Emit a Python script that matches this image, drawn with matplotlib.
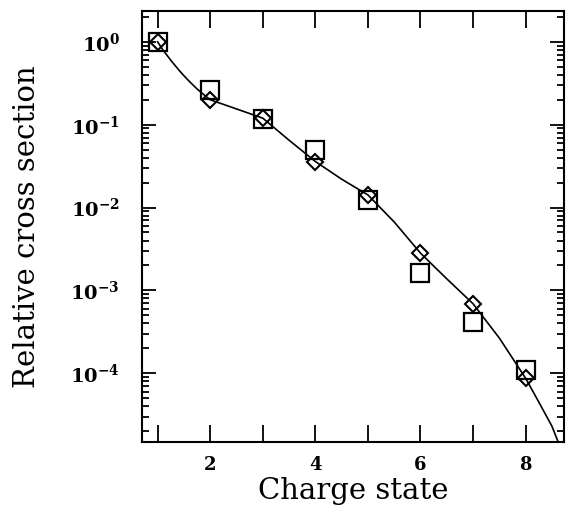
import matplotlib
matplotlib.use("Agg")
import matplotlib.pyplot as plt
from matplotlib.ticker import FixedLocator, LogLocator, NullFormatter

plt.rcParams['font.family'] = 'DejaVu Serif'
plt.rcParams['mathtext.fontset'] = 'dejavuserif'

charge = [1, 2, 3, 4, 5, 6, 7, 8]
squares = [1.0, 0.26, 0.116, 0.050, 0.0124, 0.00162, 0.00041, 0.000110]
diamonds = [1.0, 0.20, 0.119, 0.035, 0.0142, 0.00282, 0.00069, 0.000087]

# smooth calculated curve
curve_x = [1.0, 1.1, 1.25, 1.4, 1.5, 1.6, 1.75, 1.9, 2.0, 2.5, 3.0, 3.5, 4.0,
           4.5, 5.0, 5.5, 6.0, 6.5, 7.0, 7.5, 8.0, 8.25, 8.5, 8.62]
curve_y = [1.0, 0.80, 0.60, 0.46, 0.39, 0.335, 0.27, 0.225, 0.20, 0.155,
           0.12, 0.065, 0.036, 0.022, 0.0142, 0.0067, 0.00282, 0.00138,
           0.00069, 0.000266, 0.000087, 4.5e-5, 2.3e-5, 1.48e-5]

xticks = [1, 2, 3, 4, 5, 6, 7, 8]
xticklabels = ['', '2', '', '4', '', '6', '', '8']
yticks = [1e0, 1e-1, 1e-2, 1e-3, 1e-4]
yticklabels = [r'$\mathbf{10^{0}}$', r'$\mathbf{10^{-1}}$', r'$\mathbf{10^{-2}}$',
               r'$\mathbf{10^{-3}}$', r'$\mathbf{10^{-4}}$']

fig = plt.figure(figsize=(5.72, 5.09), dpi=100)
ax = fig.add_axes([0.248, 0.1316, 0.738, 0.8464])

ax.plot(curve_x, curve_y, color='black', lw=1.2, zorder=2)
ax.plot(charge, squares, ls='none', marker='s', ms=12.5, mfc='none',
        mec='black', mew=1.6, zorder=3)
ax.plot(charge, diamonds, ls='none', marker='D', ms=8, mfc='none',
        mec='black', mew=1.5, zorder=4)

ax.set_yscale('log')
ax.set_xlim(0.7, 8.73)
ax.set_ylim(10 ** -4.83, 10 ** 0.37)

ax.xaxis.set_major_locator(FixedLocator(xticks))
ax.set_xticklabels(xticklabels, fontsize=13, fontweight='bold')
ax.yaxis.set_major_locator(FixedLocator(yticks))
ax.set_yticklabels(yticklabels, fontsize=14)
ax.yaxis.set_minor_locator(LogLocator(base=10, subs=range(2, 10), numticks=20))
ax.yaxis.set_minor_formatter(NullFormatter())

ax.tick_params(which='both', direction='in', top=True, right=True, width=1.3)
ax.tick_params(axis='x', which='major', length=12, pad=10)
ax.tick_params(axis='y', which='major', length=10, pad=16)
ax.tick_params(axis='y', which='minor', length=5)
for s in ax.spines.values():
    s.set_linewidth(1.5)

ax.set_xlabel('Charge state', fontsize=21, labelpad=2)
ax.set_ylabel('Relative cross section', fontsize=21, labelpad=21)

fig.savefig('out.png', dpi=100)
